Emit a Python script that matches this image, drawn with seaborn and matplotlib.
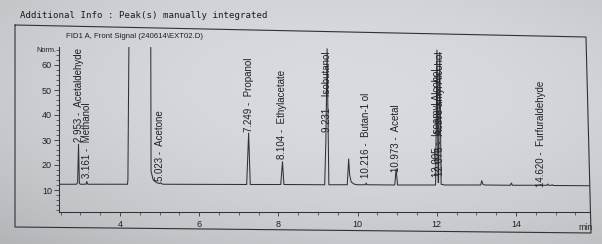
import matplotlib
matplotlib.use("Agg")
import matplotlib.pyplot as plt
import seaborn as sns
import pandas as pd
import numpy as np
from matplotlib.lines import Line2D
from matplotlib.ticker import MultipleLocator

# ---- data ----
trace_time = [2.46, 2.90, 2.93, 2.953, 2.975, 3.00, 3.14, 3.161, 3.185,
              4.19, 4.20, 4.25, 4.77, 4.785, 4.84, 4.93, 5.00, 5.023, 5.05, 5.10,
              7.20, 7.249, 7.29, 8.06, 8.104, 8.14,
              9.17, 9.20, 9.231, 9.275,
              9.74, 9.775, 9.80, 9.84, 9.92, 10.0,
              10.20, 10.216, 10.235, 10.94, 10.973, 11.01,
              11.97, 12.005, 12.035, 12.045, 12.076, 12.11, 12.20,
              13.11, 13.135, 13.17, 13.22, 13.86, 13.885, 13.91,
              14.60, 14.62, 14.64, 14.78, 14.80, 14.82, 14.90, 14.92, 14.94, 15.90]
trace_signal = [12.3, 12.3, 13.0, 28.3, 12.6, 12.3, 12.3, 13.4, 12.3,
                12.3, 14.0, 120.0, 120.0, 17.5, 14.0, 12.9, 12.6, 12.9, 12.5, 12.3,
                12.2, 32.8, 12.2, 12.2, 21.3, 12.2,
                12.1, 30.0, 66.5, 12.1,
                12.1, 22.4, 16.0, 13.2, 12.3, 12.1,
                12.1, 12.8, 12.1, 12.0, 18.4, 12.0,
                12.0, 66.0, 13.0, 13.0, 65.0, 12.3, 12.0,
                12.0, 13.7, 12.2, 12.0, 11.9, 12.8, 11.9,
                11.9, 12.2, 11.9, 11.9, 12.4, 11.9, 11.9, 12.1, 11.8, 11.7]

label_rt = [2.953, 3.161, 5.023, 7.249, 8.104, 9.231, 10.216, 10.973, 12.005, 12.076, 14.620]
label_names = ["Acetaldehyde", "Methanol", "Acetone", "Propanol", "Ethylacetate",
               "Isobutanol", "Butan-1 ol", "Acetal", "Isoamyl Alcohol",
               "Active amyl Alcohol", "Furfuraldehyde"]
label_base = [29.0, 15.0, 13.5, 33.0, 22.5, 33.0, 15.0, 17.3, 15.3, 15.8, 11.2]

y_ticks = [10, 20, 30, 40, 50, 60]
x_ticks = [4, 6, 8, 10, 12, 14]

title_text = "Additional Info : Peak(s) manually integrated"
signal_text = "FID1 A, Front Signal (240614\\EXT02.D)"

# ---- figure ----
W, H = 602, 244
bg = "#d1d4d9"
ink = "#2e3136"
sns.set_theme(style="white")
plt.rcParams["font.family"] = ["Liberation Sans", "DejaVu Sans"]

fig = plt.figure(figsize=(W / 100, H / 100), dpi=100, facecolor=bg)

# soft photographic shading of the paper
yy, xx = np.mgrid[0:H, 0:W]
u = (xx - W * 0.55) / W
v = (yy - H * 0.40) / H
shade = 1.0 - 0.22 * (u ** 2 + v ** 2) - 0.035 * (yy / H) * (1 - xx / W)
paper = np.array([217, 220, 224]) / 255.0
img = np.clip(shade[..., None] * paper[None, None, :], 0, 1)
fig.figimage(img, xo=0, yo=0, origin="upper", zorder=-5)

def fx(px):
    return px / W

def fy(py):
    return 1 - py / H

ax = fig.add_axes([fx(59), fy(212), fx(590) - fx(59), fy(47) - fy(212)])
ax.set_facecolor("none")

df = pd.DataFrame({"time": trace_time, "signal": trace_signal})
sns.lineplot(data=df, x="time", y="signal", ax=ax, sort=False, estimator=None,
             color=ink, linewidth=0.75)

ax.set_xlim(2.46, 15.87)
ax.set_ylim(1.2, 67.2)
ax.set_xlabel("")
ax.set_ylabel("")
ax.set_xticks(x_ticks)
ax.set_xticklabels([str(t) for t in x_ticks])
ax.set_yticks(y_ticks)
ax.set_yticklabels([str(t) for t in y_ticks])
ax.xaxis.set_minor_locator(MultipleLocator(0.5))
ax.yaxis.set_minor_locator(MultipleLocator(2))
for s in ["top", "right"]:
    ax.spines[s].set_visible(False)
for s in ["left", "bottom"]:
    ax.spines[s].set_color(ink)
    ax.spines[s].set_linewidth(0.75)
ax.tick_params(axis="both", which="both", colors=ink, labelsize=6.5, labelcolor="#1e2024")
ax.tick_params(axis="y", which="major", direction="out", length=3.5, width=0.6, pad=1.5)
ax.tick_params(axis="y", which="minor", direction="out", length=2, width=0.5)
ax.tick_params(axis="x", which="major", direction="out", length=3, width=0.6, pad=2.5)
ax.tick_params(axis="x", which="minor", direction="out", length=2, width=0.5)
ax.tick_params(left=True, bottom=True, which="both")

for rt, name, yb in zip(label_rt, label_names, label_base):
    ax.text(rt, yb, f"{rt:.3f} -  {name}", rotation=90, ha="center", va="bottom",
            fontsize=7, color="#1e2024", clip_on=False)

# outer frame of the printout (slightly tilted in the photo)
frame_x = [15, 586, 591, 15, 15]
frame_y = [25, 37, 233, 227, 25]
fig.add_artist(Line2D([fx(v) for v in frame_x], [fy(v) for v in frame_y],
                      transform=fig.transFigure, color=ink, linewidth=0.8))

fig.text(fx(20), fy(15), title_text, family="DejaVu Sans Mono", fontsize=6.6,
         ha="left", va="center", color="#1a1c20")
fig.text(fx(66), fy(36), signal_text, fontsize=5.6, ha="left", va="center", color="#1e2024")
fig.text(fx(56), fy(50), "Norm.", fontsize=5.3, ha="right", va="center", color="#1e2024")
fig.text(fx(593), fy(228), "min", fontsize=6.2, ha="right", va="center", color="#1e2024")

fig.savefig("out.png", dpi=100, facecolor=bg)
